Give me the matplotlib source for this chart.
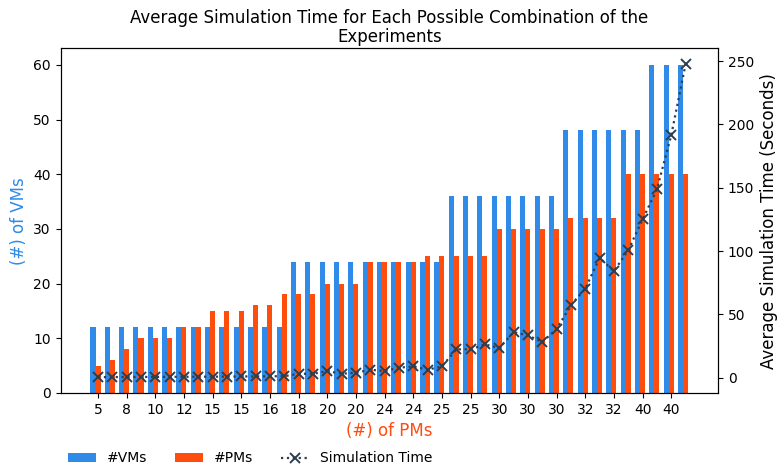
import numpy as np
import matplotlib
matplotlib.use('Agg')
import matplotlib.pyplot as plt

# VMs / PMs per experiment combination, plus the average runtime (s)
vms = [12] * 14 + [24] * 11 + [36] * 8 + [48] * 6 + [60] * 3
pms = [5, 6, 8, 10, 10, 10, 12, 12, 15, 15, 15, 16, 16, 18, 18, 18,
       20, 20, 20, 24, 24, 24, 24, 25, 25, 25, 25, 25, 30, 30, 30, 30,
       30, 32, 32, 32, 32, 40, 40, 40, 40, 40]
sim_time = [0.4, 0.5, 0.5, 0.6, 0.6, 0.7, 0.7, 0.8, 0.8, 0.9, 1.0, 1.0,
            1.1, 1.2, 3.1, 3.1, 5.2, 3.1, 3.9, 6.3, 5.2, 7.9, 8.9, 6.3,
            8.9, 22.4, 22.4, 26.3, 23.4, 36.0, 33.4, 28.1, 38.4, 57.2,
            70.3, 94.5, 84.2, 100.6, 125.0, 148.7, 191.4, 247.6]

blue = '#2f8ae8'
orange = '#ff4d0d'
dark = '#2c3e50'

x = np.arange(len(vms))
width = 0.35

fig, ax = plt.subplots(figsize=(7.77, 4.66), dpi=100)
fig.subplots_adjust(left=0.078, right=0.924, top=0.896, bottom=0.157)

b1 = ax.bar(x - width, vms, width, color=blue, label='#VMs')
b2 = ax.bar(x, pms, width, color=orange, label='#PMs')
ax.set_ylabel('(#) of VMs', color=blue, fontsize=12)
ax.set_xlabel('(#) of PMs', color=orange, fontsize=12)
ax.set_xticks(x[::2])
ax.set_xticklabels(pms[::2])

ax2 = ax.twinx()
l1, = ax2.plot(x, sim_time, linestyle=':', marker='x', color=dark,
               linewidth=1.6, markersize=7, markeredgewidth=1.4,
               label='Simulation Time')
ax2.set_ylabel('Average Simulation Time (Seconds)', fontsize=12)

ax.set_title('Average Simulation Time for Each Possible Combination of the\nExperiments',
             fontsize=12, linespacing=1.05, pad=5)

ax.legend(handles=[b1, b2, l1], loc='upper left', bbox_to_anchor=(-0.008, -0.134),
          ncol=3, frameon=False)

plt.savefig('out.png')
